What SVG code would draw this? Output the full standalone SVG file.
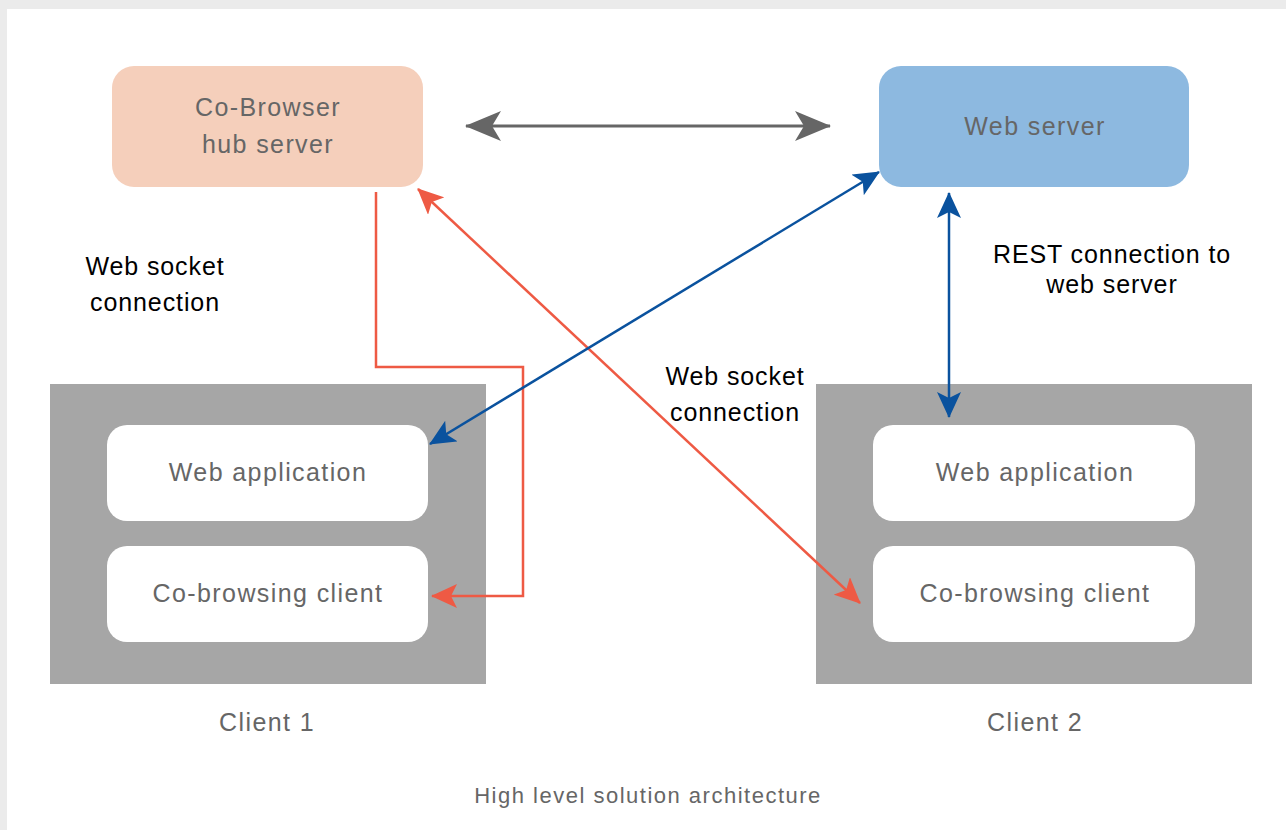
<svg xmlns="http://www.w3.org/2000/svg" width="1286" height="830" viewBox="0 0 1286 830">
  <style>
    .node-text { font-family: "Liberation Sans", Arial, sans-serif; font-size: 25px; letter-spacing: 1.4px; fill: #666666; text-anchor: middle; }
    .label { font-family: "Liberation Sans", Arial, sans-serif; font-size: 25px; letter-spacing: 0.9px; fill: #000000; text-anchor: middle; }
    .caption { font-family: "Liberation Sans", Arial, sans-serif; font-size: 22px; letter-spacing: 1.5px; fill: #666666; text-anchor: middle; }
    .client { fill: #a6a6a6; }
    .inner { fill: #ffffff; }
    .red { stroke: #ee5a44; stroke-width: 2.5; fill: none; }
    .blue { stroke: #0a529e; stroke-width: 2.5; fill: none; }
    .gray { stroke: #666666; stroke-width: 3; fill: none; }
  </style>
  <defs>
    <marker id="head-gray" markerUnits="userSpaceOnUse" viewBox="0 0 36 30" refX="35" refY="15" markerWidth="36" markerHeight="30" orient="auto-start-reverse">
      <path d="M0,0 L36,15 L0,30 L9,15 z" fill="#666666"/>
    </marker>
    <marker id="head-red" markerUnits="userSpaceOnUse" viewBox="0 0 26 24" refX="25" refY="12" markerWidth="26" markerHeight="24" orient="auto-start-reverse">
      <path d="M0,0 L26,12 L0,24 L6,12 z" fill="#ee5a44"/>
    </marker>
    <marker id="head-blue" markerUnits="userSpaceOnUse" viewBox="0 0 26 24" refX="25" refY="12" markerWidth="26" markerHeight="24" orient="auto-start-reverse">
      <path d="M0,0 L26,12 L0,24 L6,12 z" fill="#0a529e"/>
    </marker>
  </defs>

  <!-- page backdrop and panel -->
  <rect x="0" y="0" width="1286" height="830" fill="#ebebeb"/>
  <rect x="7" y="9" width="1279" height="821" fill="#ffffff"/>

  <!-- client containers -->
  <g id="client1">
    <rect class="client" x="50" y="384" width="436" height="300"/>
    <text class="node-text" x="267" y="731">Client 1</text>
  </g>
  <g id="client2">
    <rect class="client" x="816" y="384" width="436" height="300"/>
    <text class="node-text" x="1035" y="731">Client 2</text>
  </g>

  <g id="hub-server">
    <rect x="112" y="66" width="311" height="121" rx="22" fill="#f5cfbb"/>
    <text class="node-text" x="268" y="116">Co-Browser</text>
    <text class="node-text" x="268" y="153">hub server</text>
  </g>
  <g id="web-server">
    <rect x="879" y="66" width="310" height="121" rx="22" fill="#8db9e0"/>
    <text class="node-text" x="1035" y="135">Web server</text>
  </g>

  <g id="web-app-1">
    <rect class="inner" x="107" y="425" width="321" height="96" rx="20"/>
    <text class="node-text" x="268" y="481">Web application</text>
  </g>
  <g id="cobrowse-client-1">
    <rect class="inner" x="107" y="546" width="321" height="96" rx="20"/>
    <text class="node-text" x="268" y="602">Co-browsing client</text>
  </g>
  <g id="web-app-2">
    <rect class="inner" x="873" y="425" width="322" height="96" rx="20"/>
    <text class="node-text" x="1035" y="481">Web application</text>
  </g>
  <g id="cobrowse-client-2">
    <rect class="inner" x="873" y="546" width="322" height="96" rx="20"/>
    <text class="node-text" x="1035" y="602">Co-browsing client</text>
  </g>

  <!-- connectors -->
  <g id="connectors">
    <line class="gray" x1="466" y1="126" x2="830" y2="126" marker-start="url(#head-gray)" marker-end="url(#head-gray)"/>
    <polyline class="red" points="376,192 376,367 523,367 523,596 432,596" marker-end="url(#head-red)"/>
    <line class="red" x1="418" y1="189" x2="860" y2="603" marker-start="url(#head-red)" marker-end="url(#head-red)"/>
    <line class="blue" x1="879" y1="172" x2="430" y2="444" marker-start="url(#head-blue)" marker-end="url(#head-blue)"/>
    <line class="blue" x1="949" y1="193" x2="949" y2="417" marker-start="url(#head-blue)" marker-end="url(#head-blue)"/>
  </g>

  <!-- connector labels -->
  <g id="labels">
    <text class="label" x="155" y="275">Web socket</text>
    <text class="label" x="155" y="311">connection</text>
    <text class="label" x="735" y="385">Web socket</text>
    <text class="label" x="735" y="421">connection</text>
    <text class="label" x="1112" y="263">REST connection to</text>
    <text class="label" x="1112" y="293">web server</text>
  </g>

  <text class="caption" x="648" y="803">High level solution architecture</text>
</svg>
